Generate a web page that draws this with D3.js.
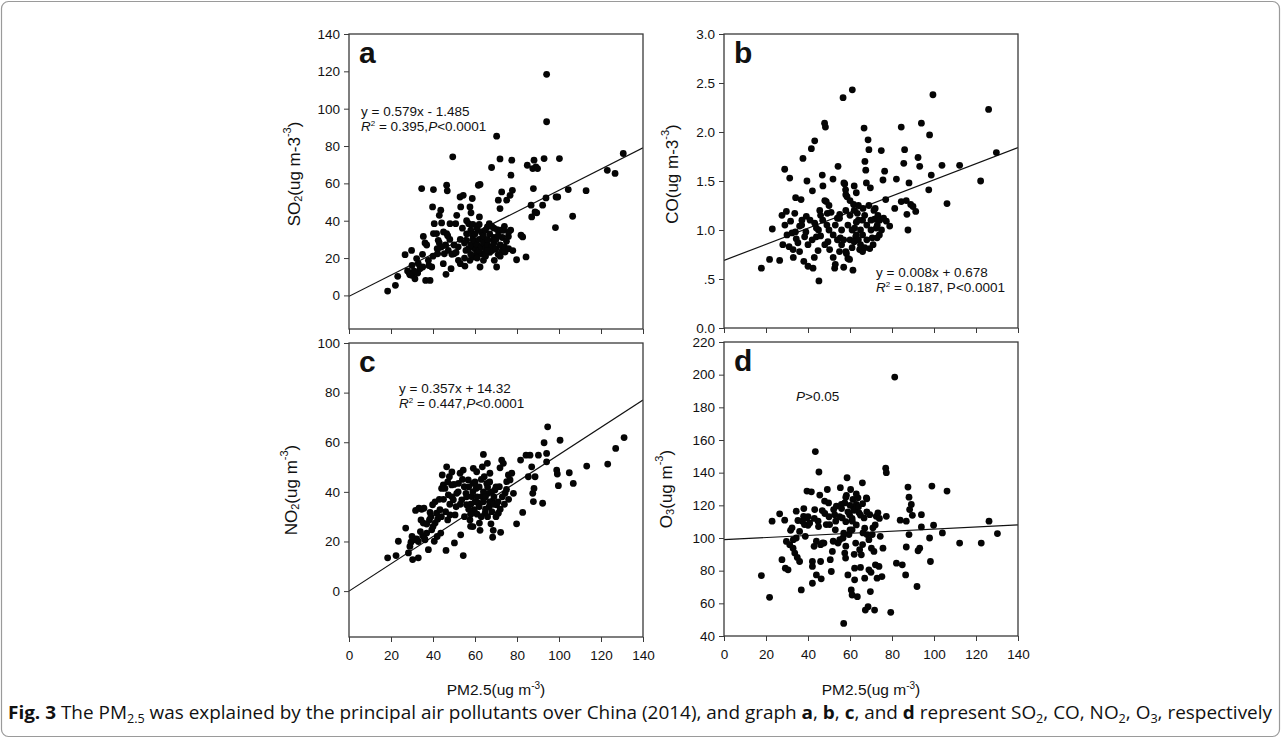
<!DOCTYPE html>
<html><head><meta charset="utf-8">
<script src="https://cdn.jsdelivr.net/npm/d3@7"></script>
<style>
body{margin:0;background:#fff;}
svg text{font-family:"Liberation Sans",Arial,sans-serif;fill:#111;}
</style></head>
<body>
<svg id="chart" width="1281" height="739"></svg>
<script>
// ---------- DATA ----------
const xTicks = [0,20,40,60,80,100,120,140];
const so2Ticks = [0,20,40,60,80,100,120,140];
const coTicks = [0,0.5,1.0,1.5,2.0,2.5,3.0];
const coTickLabels = ["0.0",".5","1.0","1.5","2.0","2.5","3.0"];
const no2Ticks = [0,20,40,60,80,100];
const o3Ticks = [40,60,80,100,120,140,160,180,200,220];

const so2Points = [[18.4,2.3],[22.1,5.4],[23.2,10.2],[26.7,21.8],[29.8,24.1],[27.9,13.1],[28.7,12.0],[30.2,10.7],[31.4,8.9],[32.2,19.7],[32.7,12.0],[33.8,14.3],[34.6,57.2],[35.1,15.2],[35.4,31.6],[36.2,28.1],[36.5,8.0],[37.8,18.8],[38.6,8.0],[39.4,15.2],[39.8,47.4],[40.2,56.7],[40.6,38.4],[40.2,33.1],[41.7,33.1],[42.2,22.3],[42.5,29.5],[43.0,28.1],[43.7,45.6],[43.0,42.9],[44.1,38.8],[44.9,17.0],[45.4,22.3],[46.2,11.3],[46.5,59.0],[46.8,56.0],[46.5,33.1],[47.3,24.1],[48.1,38.4],[48.6,14.3],[49.4,74.2],[50.0,22.3],[50.8,38.4],[51.3,42.9],[52.1,18.8],[52.9,52.7],[53.2,47.4],[54.4,53.6],[55.2,15.7],[55.7,24.1],[56.0,29.5],[57.0,38.4],[57.6,47.4],[57.6,18.8],[58.1,44.2],[58.7,51.9],[58.9,32.2],[59.2,20.6],[60.0,25.0],[60.8,22.3],[61.6,59.0],[62.4,59.4],[62.1,42.0],[62.4,15.2],[63.2,22.3],[63.7,31.3],[64.0,18.8],[64.8,22.3],[65.6,29.5],[65.9,36.7],[66.8,38.4],[67.9,68.5],[68.1,24.1],[68.7,29.5],[69.2,18.8],[70.3,85.3],[70.3,15.2],[70.6,35.2],[71.1,51.0],[71.9,73.1],[71.9,46.5],[72.2,34.9],[72.7,55.4],[73.0,24.1],[73.5,34.9],[74.3,23.2],[75.1,51.0],[75.9,31.6],[76.7,53.6],[77.1,64.4],[77.5,72.4],[77.8,56.3],[79.8,19.1],[81.9,32.2],[82.7,31.3],[84.3,20.6],[84.9,69.7],[86.7,48.3],[87.0,42.0],[87.5,67.9],[87.8,57.2],[88.1,72.4],[88.6,44.7],[89.0,68.8],[89.4,44.2],[89.8,67.9],[92.2,48.3],[92.9,73.3],[94.1,118.4],[94.1,93.0],[93.8,52.2],[98.3,36.3],[98.6,52.7],[99.4,52.7],[100.2,73.3],[104.4,56.7],[106.5,42.4],[112.9,56.1],[123.0,67.0],[126.7,65.3],[130.6,76.0],
[52,26],[53,30],[55,28],[56,33],[57,25],[58,27],[59,30],[60,29],[60,33],[61,27],[61,36],[62,24],[62,30],[63,26],[63,34],[64,28],[64,32],[65,25],[65,35],[66,27],[66,30],[67,23],[67,33],[68,26],[68,37],[69,28],[69,31],[70,25],[70,30],[71,22],[72,27],[73,31],[74,26],[75,29],[76,25],[77,35],[74,37],[76,34],[78,24],[72,21],[65,21],[61,20],[58,22],[55,20],[54,36],[50,27],[48,30],[46,27],[44,26],[42,25],[40,21],[38,16],[37,27],[35,22],[33,17],[31,13],[29,11],[30,16],[45,34],[47,32],[56,40],[58,35],[49,22],[51,23],[53,17],[59,38],[62,38],[69,36],[71,32],[66,24]];

const coPoints = [[17.8,0.61],[21.7,0.70],[23.0,1.01],[26.5,0.69],[27.6,1.15],[28.9,1.62],[29.7,1.19],[31.3,1.53],[31.7,1.09],[32.4,0.97],[32.9,0.80],[34.1,1.33],[33.7,1.17],[34.4,0.91],[35.2,0.87],[36.0,1.04],[36.7,1.31],[37.6,1.73],[37.1,1.10],[38.4,0.93],[39.2,1.14],[39.5,1.50],[40.0,0.63],[41.6,1.83],[42.1,1.40],[42.4,0.61],[43.2,1.91],[43.2,1.07],[44.0,0.93],[44.8,0.79],[45.2,0.48],[45.6,1.20],[46.0,0.94],[46.8,1.56],[47.1,1.45],[47.9,2.09],[48.3,2.05],[48.7,1.29],[49.2,1.17],[49.5,0.88],[50.3,0.80],[51.9,1.52],[52.7,0.61],[54.3,1.65],[55.1,1.16],[55.4,0.92],[56.7,2.35],[57.1,1.48],[57.5,1.47],[57.9,1.41],[58.6,1.34],[58.3,0.76],[59.0,0.71],[59.8,0.70],[61.1,2.43],[61.4,0.59],[61.7,1.26],[62.2,1.02],[62.7,0.93],[63.0,1.38],[63.5,1.17],[64.0,1.10],[64.6,0.80],[66.2,1.22],[66.7,2.04],[67.1,1.70],[67.5,1.61],[67.8,1.48],[68.6,1.92],[69.0,1.82],[69.7,1.43],[69.4,0.81],[70.6,0.92],[71.4,1.20],[71.7,1.11],[72.5,1.02],[72.9,0.92],[73.3,1.15],[74.1,1.10],[74.9,1.81],[75.7,1.51],[76.5,1.60],[77.0,1.31],[77.3,1.09],[78.9,1.04],[81.3,1.22],[82.1,1.52],[84.4,2.05],[84.4,1.29],[85.6,1.68],[86.0,1.82],[86.8,1.30],[87.1,1.16],[87.6,1.00],[88.1,1.48],[88.9,1.26],[90.0,1.24],[91.3,1.19],[92.4,1.74],[93.2,1.65],[94.0,2.09],[97.5,1.41],[97.9,1.97],[98.7,1.56],[99.5,2.38],[103.8,1.66],[106.2,1.27],[112.2,1.66],[122.2,1.50],[126.0,2.23],[129.7,1.79],
[45,1.0],[47,1.1],[48,0.85],[50,1.0],[52,0.95],[53,1.05],[54,1.12],[56,0.85],[56,1.0],[57,0.9],[58,0.78],[58,1.2],[59,1.05],[60,0.9],[60,1.15],[61,0.82],[61,1.0],[62,0.88],[62,1.2],[63,0.95],[63,1.08],[64,0.9],[64,1.25],[65,0.85],[65,1.0],[66,1.1],[66,0.95],[67,1.15],[68,0.9],[68,1.05],[69,1.25],[70,1.0],[71,0.85],[73,1.05],[74,0.95],[75,1.0],[76,1.12],[55,0.78],[52,0.72],[50,1.25],[48,1.3],[46,1.15],[44,1.02],[42,0.9],[41,1.1],[39,0.98],[37,1.05],[36,0.78],[34,0.98],[33,0.72],[31,0.83],[30,0.95],[28,0.85],[29,1.05],[38,0.68],[40,0.85],[43,0.72],[53,0.65],[57,0.62],[66,0.78],[70,1.1],[72,1.22],[60,1.3],[58,1.36],[62,1.45],[55,1.12],[51,1.18],[49,1.05],[54,0.9],[67,0.82]];

const no2Points = [[18.4,13.4],[22.4,14.3],[23.5,20.1],[27.0,25.4],[28.3,15.4],[29.5,19.7],[30.3,12.7],[30.6,20.7],[31.7,32.5],[32.2,21.0],[33.0,13.4],[33.3,33.4],[34.3,28.7],[34.6,33.0],[35.1,22.3],[35.4,27.4],[35.7,33.4],[36.2,20.7],[37.0,23.4],[37.8,16.7],[38.3,28.7],[38.6,31.7],[39.4,24.7],[39.8,34.8],[40.6,20.1],[41.0,27.4],[41.7,31.4],[42.2,29.0],[43.3,32.8],[43.7,23.4],[44.1,41.4],[44.4,46.8],[44.9,42.8],[45.7,41.4],[46.2,16.4],[46.5,50.1],[47.0,28.7],[47.3,38.8],[47.8,46.1],[48.1,30.7],[48.9,42.8],[49.7,36.8],[50.2,19.4],[50.5,30.7],[51.3,39.4],[52.1,43.4],[52.9,47.5],[53.2,22.7],[53.7,36.8],[54.4,14.3],[54.4,48.8],[54.9,42.1],[55.7,39.4],[56.0,34.8],[56.8,44.8],[57.6,28.7],[57.9,26.1],[58.4,38.1],[59.0,43.4],[59.2,49.5],[59.7,32.8],[60.5,41.4],[60.8,48.1],[61.6,35.4],[62.1,27.4],[62.4,24.5],[63.2,38.1],[63.5,50.1],[64.0,55.1],[64.4,46.1],[64.8,31.4],[65.6,43.4],[65.9,51.5],[66.3,39.4],[66.8,34.1],[67.1,47.5],[67.6,27.1],[68.1,36.1],[68.4,21.7],[68.7,24.5],[69.5,40.8],[70.3,34.8],[71.1,31.4],[71.6,42.1],[71.9,49.7],[72.2,23.7],[72.7,52.8],[73.5,51.5],[74.3,39.4],[75.1,44.1],[75.9,46.8],[76.7,44.8],[77.5,47.5],[78.3,39.4],[79.8,27.1],[81.7,52.8],[82.7,31.7],[84.3,54.8],[85.4,46.1],[86.2,54.8],[87.0,50.1],[87.5,39.4],[87.8,36.1],[88.1,41.4],[88.6,46.1],[90.2,54.8],[92.2,35.4],[92.9,59.8],[94.1,55.5],[94.6,66.2],[94.1,52.1],[98.9,48.8],[99.2,47.2],[99.7,42.5],[100.5,60.8],[104.9,47.7],[106.8,43.4],[113.2,50.4],[123.2,51.2],[127.0,57.5],[131.0,61.9],
[56,38],[57,42],[58,35],[59,40],[60,36],[60,44],[61,38],[61,31],[62,34],[62,42],[63,30],[63,45],[64,36],[64,40],[65,33],[65,38],[66,30],[66,42],[67,36],[67,44],[68,32],[68,40],[69,35],[69,38],[70,30],[70,42],[71,36],[72,33],[73,38],[74,35],[75,41],[76,37],[58,31],[59,26],[57,33],[55,30],[53,35],[52,40],[51,34],[50,43],[49,38],[48,35],[46,32],[45,37],[43,37],[42,22],[40,26],[39,30],[37,27],[36,21],[34,24],[33,20],[31,21],[30,22],[29,18],[41,36],[44,30],[47,44],[49,48],[54,45]];

const o3Points = [[17.8,77.0],[21.7,63.7],[22.9,110.3],[26.5,114.8],[27.6,86.7],[28.9,110.9],[29.2,81.5],[29.7,97.9],[30.5,80.5],[31.3,95.9],[31.7,104.7],[32.4,106.2],[32.9,93.8],[33.7,90.8],[34.4,116.4],[34.4,100.0],[34.9,88.1],[35.2,110.7],[36.0,85.6],[36.8,68.2],[37.3,110.3],[37.9,113.3],[38.3,108.2],[38.7,101.0],[39.2,112.3],[39.5,128.7],[40.0,107.8],[40.8,109.2],[41.6,128.3],[42.1,85.6],[42.1,82.6],[42.1,72.3],[42.9,94.9],[43.2,117.4],[43.5,152.9],[44.0,77.4],[44.8,110.3],[45.2,140.4],[45.6,126.3],[46.0,85.6],[46.3,75.0],[46.8,116.8],[46.0,95.9],[47.6,96.9],[47.9,122.6],[48.7,108.2],[49.2,129.7],[49.8,121.5],[50.3,108.2],[50.6,86.7],[51.1,79.5],[51.6,91.8],[52.2,117.4],[52.7,114.3],[53.2,110.3],[53.5,119.5],[54.3,96.9],[55.1,99.0],[55.4,130.8],[55.9,120.5],[56.3,112.3],[56.7,100.0],[57.0,47.7],[57.5,121.5],[57.5,90.8],[57.9,87.7],[58.3,126.1],[58.6,136.9],[59.0,77.4],[59.5,102.1],[59.8,114.3],[60.3,129.7],[60.6,68.2],[61.0,65.1],[61.1,110.3],[61.4,123.6],[61.7,118.5],[62.2,74.4],[62.2,81.5],[62.7,96.9],[63.0,120.5],[63.5,64.1],[63.8,124.6],[64.3,115.4],[64.6,92.8],[65.4,89.7],[65.9,133.8],[66.2,103.1],[66.7,112.3],[67.0,75.4],[67.3,55.9],[67.8,124.6],[68.1,102.1],[68.6,57.9],[69.0,80.5],[69.4,114.3],[69.7,67.2],[70.2,93.8],[70.6,102.1],[70.9,106.2],[71.4,91.8],[71.7,55.9],[72.1,83.6],[72.5,113.3],[72.9,75.4],[73.3,115.4],[73.8,82.6],[74.4,101.0],[75.2,76.4],[75.7,93.8],[77.0,142.7],[77.3,140.0],[77.3,113.3],[79.4,54.5],[81.3,198.5],[82.1,84.6],[83.9,110.9],[84.9,83.6],[86.5,77.4],[86.8,110.3],[86.8,94.5],[87.6,131.2],[88.1,125.0],[88.4,117.4],[89.2,120.5],[88.1,102.1],[89.7,113.9],[91.9,70.3],[92.4,92.2],[93.2,93.8],[94.0,114.3],[94.0,106.8],[97.9,100.0],[98.3,85.6],[99.0,131.8],[99.8,107.8],[104.0,103.1],[106.2,128.7],[112.2,96.9],[122.5,96.9],[126.2,110.3],[130.2,102.7],
[55,113],[56,118],[58,110],[59,116],[60,120],[61,112],[62,117],[63,108],[64,119],[65,114],[66,121],[67,106],[68,116],[60,105],[57,103],[53,105],[50,113],[48,115],[45,107],[43,112],[40,113],[38,118],[36,104],[33,99],[44,98],[47,97],[52,98],[58,95],[62,90],[65,82],[70,79],[66,96],[69,99],[72,108],[74,112],[68,124],[63,127],[58,125],[61,105]];

// fitted lines, endpoints as drawn in the figure
const so2Fit = [[0,-0.5],[140,79]];
const coFit = [[0,0.69],[140,1.84]];
const no2Fit = [[0,0],[140,77]];
const o3Fit = [[0,99],[140,108]];

// ---------- LAYOUT ----------
const svg = d3.select("#chart");
const L = {left:[349,643], right:[724,1018]};

svg.append("rect").attr("x",1.5).attr("y",1.5).attr("width",1278).attr("height",735)
  .attr("rx",7).attr("fill","none").attr("stroke","#9a9a9a").attr("stroke-width",1.2);

const panels = [
  {pts:so2Points, fit:so2Fit, xr:L.left, yr:[329,34], yd:[-18,140], yt:so2Ticks, yfmt:d=>d, xLabels:false, letter:"a"},
  {pts:coPoints, fit:coFit, xr:L.right, yr:[328,34], yd:[0,3], yt:coTicks, yfmt:(d,i)=>coTickLabels[i], xLabels:false, letter:"b"},
  {pts:no2Points, fit:no2Fit, xr:L.left, yr:[637,343], yd:[-18.5,100], yt:no2Ticks, yfmt:d=>d, xLabels:true, letter:"c"},
  {pts:o3Points, fit:o3Fit, xr:L.right, yr:[636,342], yd:[40,220], yt:o3Ticks, yfmt:d=>d, xLabels:true, letter:"d"}
];

panels.forEach((p,k)=>{
  const x = d3.scaleLinear().domain([0,140]).range(p.xr);
  const y = d3.scaleLinear().domain(p.yd).range(p.yr);
  const g = svg.append("g");
  const clipId = "clip"+k;
  svg.append("clipPath").attr("id",clipId).append("rect")
    .attr("x",p.xr[0]).attr("y",p.yr[1]).attr("width",p.xr[1]-p.xr[0]).attr("height",p.yr[0]-p.yr[1]);

  g.append("path").datum(p.fit).attr("clip-path",`url(#${clipId})`)
    .attr("d", d3.line().x(d=>x(d[0])).y(d=>y(d[1])))
    .attr("fill","none").attr("stroke","#111").attr("stroke-width",1.2);

  g.append("g").selectAll("circle").data(p.pts).join("circle")
    .attr("cx",d=>x(d[0])).attr("cy",d=>y(d[1])).attr("r",3.4).attr("fill","#050505");

  g.append("rect").attr("x",p.xr[0]).attr("y",p.yr[1]).attr("width",p.xr[1]-p.xr[0]).attr("height",p.yr[0]-p.yr[1])
    .attr("fill","none").attr("stroke","#3a3a3a").attr("stroke-width",1.3);

  const ya = g.append("g").attr("transform",`translate(${p.xr[0]},0)`)
    .call(d3.axisLeft(y).tickValues(p.yt).tickFormat(p.yfmt).tickSize(5).tickPadding(4));
  ya.select(".domain").remove();
  ya.selectAll("text").style("font-size","13.5px").style("font-family","'Liberation Sans',Arial,sans-serif").attr("fill","#111");
  ya.selectAll("line").attr("stroke","#3a3a3a");

  const xa = g.append("g").attr("transform",`translate(0,${p.yr[0]})`)
    .call(d3.axisBottom(x).tickValues(xTicks).tickFormat(p.xLabels? (d=>d) : (()=>"")).tickSize(5).tickPadding(8));
  xa.select(".domain").remove();
  xa.selectAll("text").style("font-size","13.5px").style("font-family","'Liberation Sans',Arial,sans-serif").attr("fill","#111");
  xa.selectAll("line").attr("stroke","#3a3a3a");

  g.append("text").attr("x",p.xr[0]+10).attr("y",p.yr[1]+29).text(p.letter)
    .style("font-size","30px").style("font-weight","bold");
});

function yTitle(cx, cy, parts){
  const t = svg.append("text").attr("transform",`translate(${cx},${cy}) rotate(-90)`)
    .attr("text-anchor","middle").attr("dominant-baseline","central").style("font-size","17px");
  parts.forEach(pt=>{
    const s = t.append("tspan").text(pt.t);
    if(pt.sub){ s.attr("dy","4").style("font-size","11px"); }
    if(pt.sup){ s.attr("dy","-7").style("font-size","11px"); }
    if(pt.back){ s.attr("dy",pt.back); }
  });
}
yTitle(294,174,[{t:"SO"},{t:"2",sub:true},{t:"(ug m-3",back:-4},{t:"-3",sup:true},{t:")",back:7}]);
yTitle(672,174,[{t:"CO(ug m-3"},{t:"-3",sup:true},{t:")",back:7}]);
yTitle(291,490,[{t:"NO"},{t:"2",sub:true},{t:"(ug m",back:-4},{t:"-3",sup:true},{t:")",back:7}]);
yTitle(666,489,[{t:"O"},{t:"3",sub:true},{t:"(ug m",back:-4},{t:"-3",sup:true},{t:")",back:7}]);

[496,871].forEach(cx=>{
  const t = svg.append("text").attr("x",cx).attr("y",695).attr("text-anchor","middle").style("font-size","15.5px");
  t.append("tspan").text("PM2.5(ug m");
  t.append("tspan").text("-3").attr("dy",-6).style("font-size","10px");
  t.append("tspan").text(")").attr("dy",6);
});

function annot(x0, y0, eq, rest){
  svg.append("text").attr("x",x0).attr("y",y0).style("font-size","13.5px").text(eq);
  const t = svg.append("text").attr("x",x0).attr("y",y0+15).style("font-size","13.5px");
  t.append("tspan").text("R").style("font-style","italic");
  t.append("tspan").text("2").attr("dy",-5).style("font-size","8px");
  rest.forEach((r,i)=>{
    const s = t.append("tspan").text(r.t);
    if(i===0) s.attr("dy",5);
    if(r.it) s.style("font-style","italic");
  });
}
annot(361,116,"y = 0.579x - 1.485",[{t:" = 0.395,"},{t:"P",it:true},{t:"<0.0001"}]);
annot(876,277,"y = 0.008x + 0.678",[{t:" = 0.187, P<0.0001"}]);
annot(399,393,"y = 0.357x + 14.32",[{t:" = 0.447,"},{t:"P",it:true},{t:"<0.0001"}]);
const pd = svg.append("text").attr("x",796).attr("y",401).style("font-size","13.5px");
pd.append("tspan").text("P").style("font-style","italic");
pd.append("tspan").text(">0.05");

const cap = svg.append("text").attr("x",8).attr("y",719).style("font-size","18px")
  .style("font-family","'Open Sans',sans-serif").attr("textLength",1264).attr("lengthAdjust","spacingAndGlyphs");
const capParts = [
  {t:"Fig. 3",b:true},{t:" The PM"},{t:"2.5",sub:true},{t:" was explained by the principal air pollutants over China (2014), and graph ",up:true},
  {t:"a",b:true},{t:", "},{t:"b",b:true},{t:", "},{t:"c",b:true},{t:", and "},{t:"d",b:true},{t:" represent SO"},{t:"2",sub:true},
  {t:", CO, NO",up:true},{t:"2",sub:true},{t:", O",up:true},{t:"3",sub:true},{t:", respectively",up:true}
];
capParts.forEach(p=>{
  const s = cap.append("tspan").text(p.t);
  if(p.b) s.style("font-weight","bold");
  if(p.sub) s.attr("dy",4).style("font-size","12px");
  if(p.up) s.attr("dy",-4);
});
</script>
</body></html>
